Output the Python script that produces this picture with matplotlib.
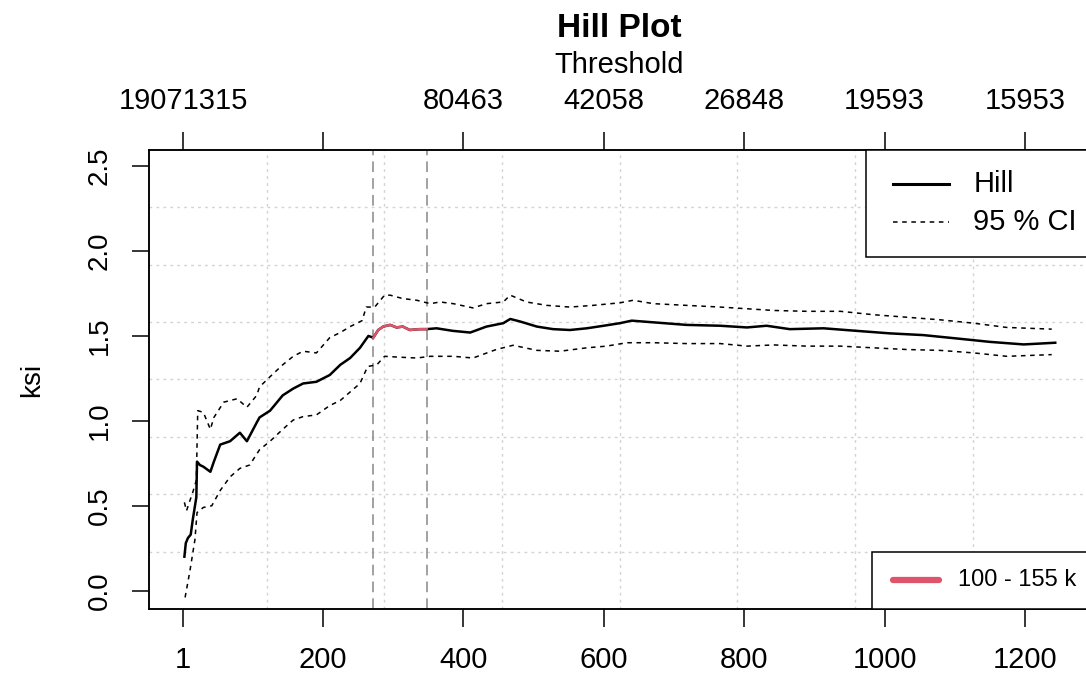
import numpy as np
import matplotlib
matplotlib.use('Agg')
import matplotlib.pyplot as plt
from matplotlib.patches import Rectangle

plt.rcParams['font.family'] = ['Liberation Sans', 'DejaVu Sans']

# Hill estimate by number of order statistics k
k_hill = [3, 5, 8, 12, 15, 20, 21, 25, 30, 40, 45, 54, 68, 82, 92, 106, 110, 125,
          143, 158, 172, 191, 210, 225, 239, 253, 265, 272, 279, 286, 296, 305,
          314, 324, 338, 348, 362, 385, 410, 433, 457, 467, 481, 505, 528, 552,
          576, 600, 623, 640, 671, 718, 766, 804, 832, 865, 913, 960, 1008,
          1055, 1103, 1150, 1198, 1221, 1243]
hill = [0.20, 0.28, 0.31, 0.33, 0.42, 0.55, 0.76, 0.74, 0.73, 0.70, 0.76, 0.86,
        0.88, 0.93, 0.88, 0.99, 1.02, 1.06, 1.15, 1.19, 1.22, 1.23, 1.27, 1.33,
        1.37, 1.43, 1.50, 1.49, 1.535, 1.555, 1.565, 1.55, 1.555, 1.535, 1.54,
        1.54, 1.545, 1.53, 1.52, 1.555, 1.575, 1.60, 1.585, 1.555, 1.54, 1.535,
        1.545, 1.56, 1.575, 1.59, 1.58, 1.565, 1.56, 1.55, 1.56, 1.54, 1.545,
        1.53, 1.515, 1.505, 1.485, 1.465, 1.45, 1.455, 1.46]

# upper 95 % CI
k_upper = [3, 6, 10, 15, 20, 22, 30, 40, 45, 59, 78, 92, 106, 110, 125, 143, 158,
           172, 191, 210, 225, 239, 256, 262, 274, 288, 296, 314, 334, 353, 367,
           386, 414, 433, 457, 467, 490, 519, 552, 585, 623, 642, 671, 718, 766,
           804, 842, 889, 937, 984, 1032, 1079, 1127, 1174, 1238]
upper = [0.52, 0.47, 0.52, 0.58, 0.65, 1.06, 1.05, 0.95, 1.02, 1.11, 1.13, 1.08,
         1.15, 1.20, 1.26, 1.33, 1.38, 1.41, 1.40, 1.49, 1.52, 1.555, 1.59, 1.67,
         1.67, 1.74, 1.74, 1.72, 1.71, 1.69, 1.70, 1.69, 1.665, 1.69, 1.70, 1.74,
         1.70, 1.68, 1.67, 1.68, 1.695, 1.71, 1.69, 1.68, 1.67, 1.66, 1.65, 1.645,
         1.645, 1.625, 1.61, 1.595, 1.575, 1.55, 1.54]

# lower 95 % CI
k_lower = [4, 11, 18, 21, 30, 42, 54, 68, 82, 96, 110, 125, 143, 158, 172, 191,
           210, 225, 239, 253, 264, 277, 288, 309, 334, 353, 386, 414, 447, 471,
           505, 538, 576, 604, 633, 671, 718, 766, 804, 842, 889, 937, 984, 1032,
           1079, 1127, 1174, 1238]
lower = [-0.04, 0.12, 0.30, 0.46, 0.49, 0.50, 0.59, 0.67, 0.72, 0.74, 0.83, 0.88,
         0.95, 1.005, 1.025, 1.035, 1.09, 1.12, 1.17, 1.22, 1.32, 1.33, 1.38,
         1.375, 1.37, 1.38, 1.38, 1.37, 1.42, 1.445, 1.415, 1.41, 1.43, 1.44,
         1.46, 1.46, 1.455, 1.455, 1.44, 1.447, 1.44, 1.44, 1.43, 1.42, 1.415,
         1.40, 1.38, 1.39]

# chosen range of k (100 - 155 k)
k_range = [272, 348]

x_ticks = [1, 200, 400, 600, 800, 1000, 1200]
threshold_labels = ['19071315', '', '80463', '42058', '26848', '19593', '15953']
y_ticks = [0.0, 0.5, 1.0, 1.5, 2.0, 2.5]

red = '#DF536B'

fig = plt.figure(figsize=(10.86, 6.79), dpi=100)
ax = fig.add_axes([0.1372, 0.1031, 0.8670, 0.6760])
xlim = (-47.4, 1293.3)
ylim = (-0.108, 2.595)
ax.set_xlim(xlim)
ax.set_ylim(ylim)

# grid: 8 equal divisions each way
for gx in np.linspace(xlim[0], xlim[1], 9)[1:-1]:
    ax.axvline(gx, color='#d3d3d3', lw=1, ls=(0, (2, 3)), zorder=0)
for gy in np.linspace(ylim[0], ylim[1], 9)[1:-1]:
    ax.axhline(gy, color='#d3d3d3', lw=1, ls=(0, (2, 3)), zorder=0)

for kv in k_range:
    ax.axvline(kv, color='#888888', lw=1.1, ls=(0, (7, 4)), zorder=1)

ax.plot(k_upper, upper, color='black', lw=1.1, ls=(0, (3, 3)), zorder=2)
ax.plot(k_lower, lower, color='black', lw=1.1, ls=(0, (3, 3)), zorder=2)
ax.plot(k_hill, hill, color='black', lw=1.8, zorder=3)
kh = np.array(k_hill)
hh = np.array(hill)
sel = (kh >= k_range[0]) & (kh <= k_range[1])
ax.plot(kh[sel], hh[sel], color=red, lw=1.8, zorder=4)

ax.set_xticks(x_ticks)
ax.set_xticklabels([str(v) for v in x_ticks])
ax.set_yticks(y_ticks)
ax.set_yticklabels(['%.1f' % v for v in y_ticks], rotation=90, va='center')
ax.tick_params(axis='x', labelsize=21, length=13, width=1.1, pad=14)
ax.tick_params(axis='y', labelsize=20, length=12, width=1.1, pad=14)
ax.set_ylabel('ksi', fontsize=20, labelpad=30)
for s in ax.spines.values():
    s.set_linewidth(1.1)

ax2 = ax.twiny()
ax2.set_xlim(xlim)
ax2.set_xticks(x_ticks)
ax2.set_xticklabels(threshold_labels)
ax2.tick_params(axis='x', labelsize=21, length=13, width=1.1, pad=12)
for s in ax2.spines.values():
    s.set_linewidth(1.1)

fig.text(0.5705, 0.9455, 'Hill Plot', ha='center', va='baseline', fontsize=24, fontweight='bold')
fig.text(0.5705, 0.8925, 'Threshold', ha='center', va='baseline', fontsize=21)

# legend top right
ax2.add_patch(Rectangle((0.7615, 0.7669), 0.2385, 0.2331, transform=ax.transAxes,
                        facecolor='white', edgecolor='black', lw=1.1, zorder=5, clip_on=False))
ax2.plot([0.7902, 0.8497], [0.926, 0.926], transform=ax.transAxes, color='black', lw=2.2, zorder=6)
ax2.plot([0.7902, 0.8497], [0.8438, 0.8438], transform=ax.transAxes, color='black', lw=1.1,
         ls=(0, (3, 3)), zorder=6)
ax2.text(0.8756, 0.926, 'Hill', transform=ax.transAxes, fontsize=21, va='center', zorder=6)
ax2.text(0.8756, 0.8438, '95 % CI', transform=ax.transAxes, fontsize=21, va='center', zorder=6)

# legend bottom right
ax2.add_patch(Rectangle((0.7678, 0.0), 0.2322, 0.1248, transform=ax.transAxes,
                        facecolor='white', edgecolor='black', lw=1.1, zorder=5, clip_on=False))
ax2.plot([0.7902, 0.839], [0.0632, 0.0632], transform=ax.transAxes, color=red, lw=4.5,
         solid_capstyle='round', zorder=6)
ax2.text(0.8592, 0.0632, '%d - %d k' % (100, 155), transform=ax.transAxes, fontsize=17,
         va='center', zorder=6)

fig.savefig('out.png', dpi=100)
